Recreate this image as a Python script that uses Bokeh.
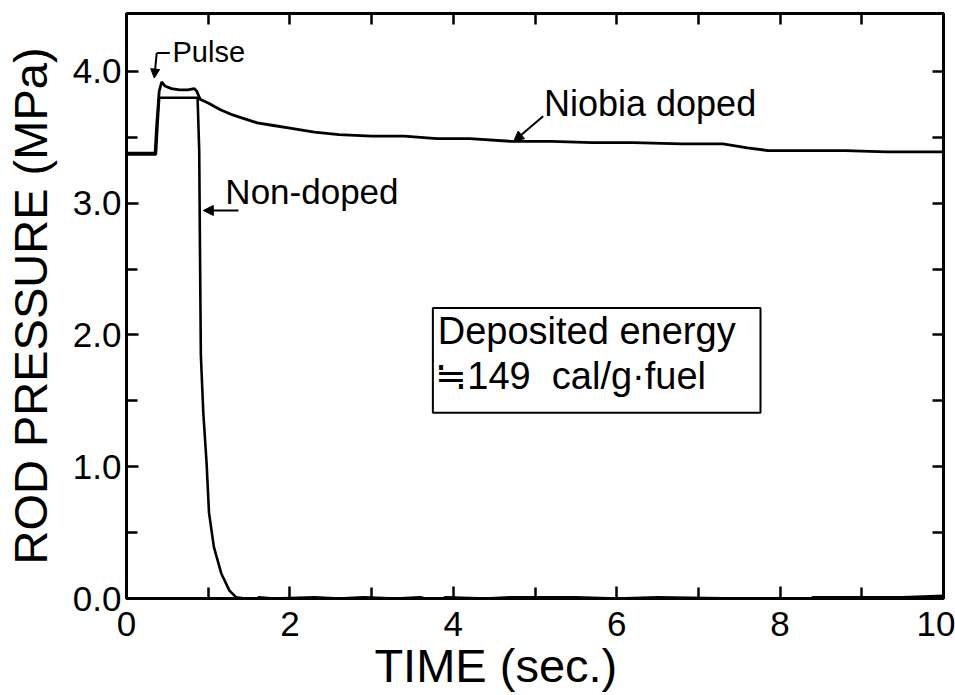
from bokeh.plotting import figure
from bokeh.models import (Range1d, FixedTicker, LinearAxis, Label, Arrow,
                          NormalHead, BoxAnnotation, PrintfTickFormatter)
from bokeh.embed import file_html
from bokeh.resources import INLINE

FONT = "Liberation Sans"
NBSP = "\u00a0"

# Rod internal pressure (MPa) against time (s) after the pulse
niobia_t = [0.0, 0.35, 0.37, 0.40, 0.43, 0.47, 0.55, 0.65, 0.75, 0.83, 0.86,
            0.90, 1.0, 1.15, 1.3, 1.4, 1.6, 1.8, 2.0, 2.3, 2.6, 3.0, 3.4,
            3.8, 4.2, 4.7, 5.2, 5.7, 6.2, 6.8, 7.3, 7.6, 7.85, 8.3, 8.8,
            9.3, 9.6, 10.0]
niobia_p = [3.38, 3.38, 3.60, 3.85, 3.92, 3.89, 3.87, 3.86, 3.86, 3.87, 3.85,
            3.79, 3.76, 3.71, 3.67, 3.65, 3.61, 3.59, 3.57, 3.54, 3.52, 3.51,
            3.51, 3.49, 3.49, 3.47, 3.47, 3.46, 3.46, 3.45, 3.45, 3.42, 3.40,
            3.40, 3.40, 3.39, 3.39, 3.39]

nondoped_t = [0.0, 0.36, 0.38, 0.40, 0.45, 0.6, 0.75, 0.87, 0.89, 0.90, 0.91,
              0.94, 0.98, 1.01, 1.07, 1.16, 1.26, 1.34, 1.45, 1.55, 1.62,
              1.8, 2.3, 2.6, 2.9, 3.3, 3.6, 3.82, 3.9, 4.4, 4.7, 5.5, 6.0,
              6.5, 7.5, 8.34, 8.4, 9.5, 10.0]
nondoped_p = [3.37, 3.37, 3.60, 3.80, 3.80, 3.80, 3.80, 3.80, 3.40, 2.60,
              1.85, 1.41, 1.03, 0.65, 0.39, 0.19, 0.06, 0.01, 0.0, -0.04,
              0.01, 0.0, 0.01, 0.0, 0.01, 0.0, 0.01, -0.03, 0.01, 0.0, 0.01,
              0.01, 0.0, 0.01, 0.0, -0.03, 0.01, 0.01, 0.02]

x_major = [0, 2, 4, 6, 8, 10]
x_labels = ["0", "2", "4", "6", "8", "10"]
x_minor = [1, 3, 5, 7, 9]
y_major = [0, 1, 2, 3, 4]
y_minor = [0.5, 1.5, 2.5, 3.5]

p = figure(width=955, height=695, output_backend="svg", toolbar_location=None,
           x_range=Range1d(0, 10), y_range=Range1d(0, 4.44),
           min_border_left=126, min_border_right=12, min_border_top=13,
           min_border_bottom=97, x_axis_location=None, y_axis_location=None)
p.background_fill_color = "white"
p.border_fill_color = "white"
p.outline_line_color = "black"
p.outline_line_width = 3
p.xgrid.visible = False
p.ygrid.visible = False


def tick_axis(ticker):
    ax = LinearAxis(ticker=ticker)
    ax.axis_line_color = None
    ax.major_tick_in = 12
    ax.major_tick_out = 0
    ax.minor_tick_in = 11
    ax.minor_tick_out = 0
    ax.major_tick_line_width = 2.5
    ax.minor_tick_line_width = 2.5
    ax.major_tick_line_color = "black"
    ax.minor_tick_line_color = "black"
    ax.major_label_text_font = FONT
    ax.major_label_text_color = "black"
    ax.axis_label_text_font = FONT
    ax.axis_label_text_font_style = "normal"
    ax.axis_label_text_color = "black"
    return ax


left = tick_axis(FixedTicker(ticks=y_major, minor_ticks=y_minor))
left.formatter = PrintfTickFormatter(format="%.1f")
left.major_label_text_font_size = "35px"
left.major_label_standoff = 5
left.axis_label = "ROD PRESSURE (MPa)"
left.axis_label_text_font_size = "47px"
left.axis_label_standoff = 13
p.add_layout(left, "left")

bottom = tick_axis(FixedTicker(ticks=x_major, minor_ticks=x_minor))
bottom.major_label_overrides = dict(zip(x_major, x_labels))
bottom.major_label_text_font_size = "35px"
bottom.major_label_standoff = 13
bottom.axis_label = "TIME (sec.)" + NBSP * 6
bottom.axis_label_text_font_size = "47px"
bottom.axis_label_standoff = 0
p.add_layout(bottom, "below")

right = tick_axis(FixedTicker(ticks=[], minor_ticks=y_major + y_minor))
p.add_layout(right, "right")

top = tick_axis(FixedTicker(ticks=[], minor_ticks=x_major + x_minor))
p.add_layout(top, "above")

# pressure traces
p.line(niobia_t, niobia_p, line_color="black", line_width=2.8)
p.line(nondoped_t, nondoped_p, line_color="black", line_width=2.6)


def note(x, y, text, size):
    p.add_layout(Label(x=x, y=y, text=text, text_font=FONT,
                       text_font_size=size, text_color="black"))


def pointer(x0, y0, x1, y1, size=10):
    p.add_layout(Arrow(x_start=x0, y_start=y0, x_end=x1, y_end=y1,
                       line_width=2, line_color="black",
                       end=NormalHead(size=size, fill_color="black",
                                      line_color="black")))


# curve annotations
note(0.563, 4.03, "Pulse", "29px")
p.line([0.53, 0.37], [4.14, 4.14], line_color="black", line_width=2)
pointer(0.37, 4.14, 0.34, 3.95, size=9)

note(5.11, 3.60, "Niobia doped", "36px")
pointer(5.1, 3.66, 4.74, 3.47)

note(1.21, 2.94, "Non-doped", "35px")
pointer(1.37, 2.945, 0.94, 2.945)

# energy box
p.add_layout(BoxAnnotation(left=3.75, right=7.76, bottom=1.41, top=2.205,
                           fill_color=None, fill_alpha=0,
                           line_color="black", line_alpha=1.0,
                           line_width=2))
note(3.81, 1.87, "Deposited energy", "38px")
note(3.78, 1.53, "\u2252149" + NBSP * 2 + "cal/g\u00b7fuel", "38px")

open("out.html", "w").write(file_html(p, INLINE))
